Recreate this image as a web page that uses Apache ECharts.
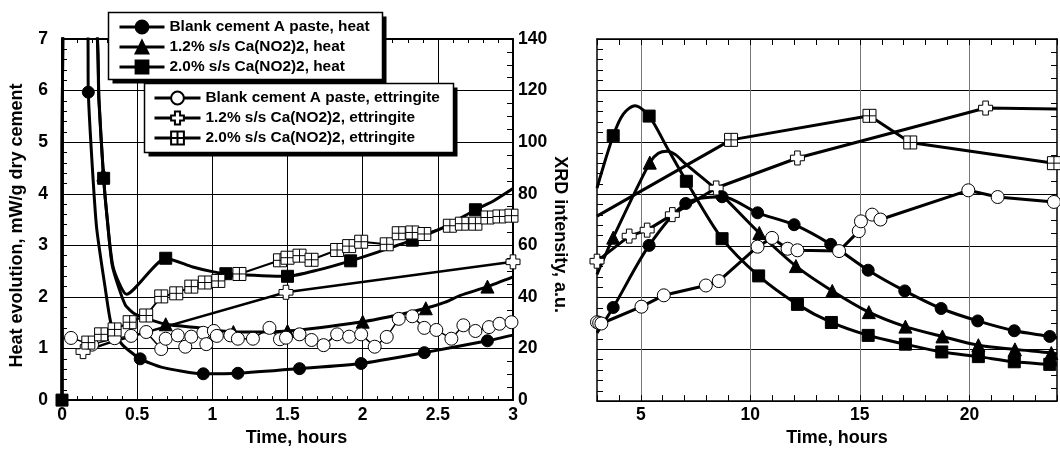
<!DOCTYPE html>
<html lang="en">
<head>
<meta charset="UTF-8">
<script src="https://cdn.jsdelivr.net/npm/echarts@6/dist/echarts.min.js"></script>
<title>Heat evolution and ettringite</title>
<style>
  html, body { margin: 0; padding: 0; background: #fff; }
  #main { width: 1060px; height: 452px; }
</style>
</head>
<body>
<div id="main"></div>
<script>
  // series names
  const names = {
    hb: 'Blank cement A paste, heat',
    h12: '1.2% s/s Ca(NO2)2, heat',
    h20: '2.0% s/s Ca(NO2)2, heat',
    eb: 'Blank cement A paste, ettringite',
    e12: '1.2% s/s Ca(NO2)2, ettringite',
    e20: '2.0% s/s Ca(NO2)2, ettringite'
  };

  // left panel, 0-3 h: [time h, heat mW/g]
  const heatBlankA = [[0,0],[0.01,10],[0.172,7.2],[0.175,5.97],[0.2,4.6],[0.23,3.35],[0.286,2.2],[0.33,1.43],[0.4,1.08],[0.52,0.8],[0.66,0.64],[0.94,0.51],[1.17,0.52],[1.58,0.61],[1.99,0.71],[2.41,0.92],[2.83,1.15],[3.0,1.26]];
  const heatBlankAMarks = [3, 9, 11, 12, 13, 14, 15, 16];
  const heat12A = [[0,0],[0.01,10],[0.225,7.4],[0.245,5.83],[0.275,4.37],[0.3,3.54],[0.335,2.6],[0.42,1.85],[0.49,1.66],[0.69,1.47],[0.92,1.4],[1.14,1.32],[1.5,1.34],[2.0,1.52],[2.25,1.66],[2.42,1.78],[2.55,1.9],[2.65,2.03],[2.83,2.2],[3.0,2.39]];
  const heat12AMarks = [4, 9, 11, 12, 13, 15, 18];
  const heat20A = [[0,0],[0.01,10],[0.226,7.4],[0.246,5.83],[0.277,4.3],[0.3,3.54],[0.34,2.58],[0.43,2.05],[0.69,2.75],[0.87,2.58],[1.0,2.49],[1.09,2.45],[1.5,2.4],[1.7,2.52],[1.92,2.7],[2.1,2.87],[2.33,3.1],[2.51,3.31],[2.6,3.44],[2.75,3.69],[2.87,3.86],[3.0,4.1]];
  const heat20AMarks = [0, 4, 8, 11, 12, 14, 16, 19];

  // left panel: [time h, XRD intensity a.u.]
  const ettBlankA = [[0.06,24.1],[0.2,21.5],[0.35,24.0],[0.46,24.9],[0.56,26.4],[0.66,19.8],[0.69,23.8],[0.77,25.1],[0.82,20.7],[0.86,24.6],[0.94,26.1],[0.96,21.7],[1.01,26.8],[1.03,24.9],[1.12,25.1],[1.17,23.8],[1.27,23.8],[1.38,28.0],[1.45,23.6],[1.49,24.2],[1.58,25.5],[1.66,23.3],[1.74,21.3],[1.83,25.5],[1.91,24.6],[1.99,25.5],[2.08,20.7],[2.16,24.5],[2.24,31.5],[2.33,32.5],[2.41,28.0],[2.49,27.2],[2.59,23.8],[2.67,29.0],[2.75,26.8],[2.84,28.3],[2.91,29.6],[2.99,30.2]];
  const ett12A = [[0.14,18.8],[0.3,22.0],[1.49,41.8],[3.0,53.6]];
  const ett12AMarks = [0, 2, 3];
  const ett20A = [[0.175,22.3],[0.26,25.5],[0.35,27.4],[0.45,30.2],[0.56,32.8],[0.66,40.2],[0.76,41.4],[0.86,44.0],[0.95,45.6],[1.04,46.2],[1.18,48.9],[1.45,54.2],[1.5,55.2],[1.58,56.0],[1.66,54.4],[1.83,58.2],[1.91,59.7],[1.99,61.4],[2.16,60.4],[2.24,64.7],[2.33,65.0],[2.41,64.4],[2.58,67.6],[2.66,68.4],[2.75,68.4],[2.83,70.8],[2.91,71.2],[2.99,71.5]];

  // right panel, 3-24 h
  const heatBlankB = [[3.0,1.32],[3.74,1.81],[5.38,3.01],[7.05,3.82],[8.71,3.95],[10.33,3.64],[12.0,3.41],[13.67,3.03],[15.38,2.53],[17.05,2.13],[18.71,1.79],[20.38,1.55],[22.05,1.36],[23.67,1.25],[24,1.22]];
  const heatBlankBMarks = [1,2,3,4,5,6,7,8,9,10,11,12,13];
  const heat12B = [[3.0,2.45],[3.74,3.16],[5.41,4.61],[5.8,4.79],[6.2,4.83],[6.6,4.76],[7.0,4.6],[8.44,4.09],[10.41,3.25],[12.08,2.61],[13.74,2.13],[15.41,1.72],[17.08,1.44],[18.77,1.25],[20.41,1.08],[22.08,1.0],[23.74,0.93],[24,0.91]];
  const heat12BMarks = [1,2,8,9,10,11,12,13,14,15,16];
  const heat20B = [[3.0,4.12],[3.74,5.13],[4.2,5.55],[4.73,5.71],[5.38,5.51],[6.2,4.9],[7.08,4.25],[8.71,3.14],[10.38,2.42],[12.15,1.87],[13.7,1.52],[15.38,1.27],[17.08,1.1],[18.74,0.95],[20.41,0.86],[22.05,0.76],[23.67,0.71],[24,0.7]];
  const heat20BMarks = [1,4,6,7,8,9,10,11,12,13,14,15,16];
  const ettBlankB = [[3.0,30.5],[3.1,30.2],[3.2,30.0],[5.03,36.5],[6.05,40.9],[7.97,44.7],[8.56,46.4],[10.33,59.7],[10.99,63.1],[11.7,58.9],[12.15,58.3],[14.05,58.0],[14.95,65.7],[15.05,69.5],[15.56,72.1],[15.94,70.2],[19.95,81.5],[21.29,78.9],[23.86,77.0]];
  const ett12B = [[3.0,54.1],[4.47,63.8],[5.29,66.1],[6.44,72.1],[8.44,82.4],[12.15,94.0],[20.74,113.3],[24,112.9]];
  const ett12BMarks = [0,1,2,3,4,5,6];
  const ett20B = [[3.0,71.5],[9.12,101],[15.44,110.3],[17.3,100],[23.86,92.0]];
  const ett20BMarks = [1,2,3,4];

  const crossPath = 'path://M3,0H7V3H10V7H7V10H3V7H0V3H3Z';
  const gridSqPath = 'path://M0,0H10V10H0ZM5,0V10M0,5H10';
  const font = 'Liberation Sans, Arial, sans-serif';

  function pts(arr, marks) {
    return arr.map((p, i) => (!marks || marks.includes(i)) ? p : { value: p, symbol: 'none' });
  }

  let myChart = echarts.init(document.getElementById('main'));

  const lbl = { color: '#000', fontFamily: font, fontWeight: 'bold', fontSize: 17.5 };
  const nameStyle = { color: '#000', fontFamily: font, fontWeight: 'bold', fontSize: 18 };
  const legendText = { color: '#000', fontFamily: font, fontWeight: 'bold', fontSize: 15.4, lineHeight: 16 };

  function heatSeries(name, data, symbol, size, x, y, smooth) {
    return {
      name: name, type: 'line', xAxisIndex: x, yAxisIndex: y,
      data: data, symbol: symbol, symbolSize: size, smooth: smooth,
      clip: true, z: 3,
      lineStyle: { color: '#000', width: 3 },
      itemStyle: { color: '#000', borderColor: '#000', borderWidth: 1 }
    };
  }
  function ettSeries(name, data, symbol, size, x, y, width) {
    return {
      name: name, type: 'line', xAxisIndex: x, yAxisIndex: y,
      data: data, symbol: symbol, symbolSize: size,
      clip: true, z: 4,
      lineStyle: { color: '#000', width: width },
      itemStyle: { color: '#fff', borderColor: '#000', borderWidth: 1 }
    };
  }

  // legend frames with a hard black drop shadow
  function frame(x, y, w, h, z) {
    return [
      { type: 'rect', z: z, shape: { x: x + 4, y: y + 4, width: w, height: h }, style: { fill: '#000' } },
      { type: 'rect', z: z + 1, shape: { x: x, y: y, width: w, height: h }, style: { fill: '#fff', stroke: '#000', lineWidth: 1.5 } }
    ];
  }

  const hidden = 'rgba(0,0,0,0)';

  let option = {
    animation: false,
    backgroundColor: '#fff',
    graphic: frame(108.5, 12.5, 274, 67, 10).concat(frame(144.5, 83.5, 309, 69, 20)),
    grid: [
      { left: 62, top: 39, width: 451, height: 366 },
      { left: 597, top: 39, width: 462, height: 363 }
    ],
    legend: [
      {
        data: [names.hb, names.h12, names.h20],
        orient: 'vertical', left: 118, top: 19, padding: 0,
        itemWidth: 45, itemHeight: 16, itemGap: 4,
        selectedMode: false, z: 15,
        lineStyle: { width: 3 },
        textStyle: legendText
      },
      {
        data: [names.eb, names.e12, names.e20],
        orient: 'vertical', left: 153, top: 90, padding: 0,
        itemWidth: 46, itemHeight: 16, itemGap: 4,
        selectedMode: false, z: 25,
        lineStyle: { width: 3 },
        textStyle: legendText
      }
    ],
    xAxis: [
      {
        gridIndex: 0, type: 'value', position: 'bottom', min: 0, max: 3, interval: 0.5,
        name: 'Time, hours', nameLocation: 'middle', nameGap: 28,
        nameTextStyle: Object.assign({ padding: [0, 0, 0, 18] }, nameStyle),
        axisLine: { onZero: false, lineStyle: { color: '#000', width: 2 } },
        axisTick: { inside: true, length: 4, lineStyle: { color: '#000' } },
        minorTick: { show: true, splitNumber: 5, length: 4, lineStyle: { color: '#000' } },
        axisLabel: Object.assign({ margin: 6 }, lbl),
        splitLine: { show: true, lineStyle: { color: '#000', width: 1 } }
      },
      {
        gridIndex: 0, type: 'value', position: 'top', min: 0, max: 3, interval: 0.5,
        axisLine: { onZero: false, lineStyle: { color: '#000', width: 2 } },
        axisTick: { inside: true, length: 4, lineStyle: { color: '#000' } },
        minorTick: { show: true, splitNumber: 5, length: 4, lineStyle: { color: '#000' } },
        axisLabel: { show: false }, splitLine: { show: false }
      },
      {
        gridIndex: 1, type: 'value', position: 'bottom', min: 3, max: 24, interval: 1,
        name: 'Time, hours', nameLocation: 'middle', nameGap: 27,
        nameTextStyle: Object.assign({ padding: [0, 0, 0, 20] }, nameStyle),
        axisLine: { onZero: false, lineStyle: { color: '#000', width: 1.5 } },
        axisTick: { inside: true, length: 6, lineStyle: { color: '#000' } },
        axisLabel: Object.assign({ margin: 5, formatter: v => (v % 5 === 0 ? String(v) : '') }, lbl),
        splitLine: { show: true, lineStyle: { color: [hidden, hidden, '#777', hidden, hidden], width: 1 } }
      },
      {
        gridIndex: 1, type: 'value', position: 'top', min: 3, max: 24, interval: 1,
        axisLine: { onZero: false, lineStyle: { color: '#000', width: 1.5 } },
        axisTick: { inside: true, length: 6, lineStyle: { color: '#000' } },
        axisLabel: { show: false }, splitLine: { show: false }
      }
    ],
    yAxis: [
      {
        gridIndex: 0, type: 'value', position: 'left', min: 0, max: 7, interval: 1,
        name: 'Heat evolution, mW/g dry cement', nameLocation: 'middle', nameGap: 36,
        nameTextStyle: Object.assign({ padding: [0, 12, 0, 0] }, nameStyle),
        axisLine: { onZero: false, lineStyle: { color: '#000', width: 2 } },
        axisTick: { inside: true, length: 5, lineStyle: { color: '#000' } },
        minorTick: { show: true, splitNumber: 5, length: 5, lineStyle: { color: '#000' } },
        axisLabel: Object.assign({ margin: 14 }, lbl),
        splitLine: { show: true, lineStyle: { color: '#000', width: 1 } }
      },
      {
        gridIndex: 0, type: 'value', position: 'right', min: 0, max: 140, interval: 20,
        name: 'XRD intensity, a.u.', nameLocation: 'middle', nameGap: 35, nameRotate: -90,
        nameTextStyle: Object.assign({ padding: [0, 0, 0, 30] }, nameStyle),
        axisLine: { onZero: false, lineStyle: { color: '#000', width: 2 } },
        axisTick: { inside: true, length: 6, lineStyle: { color: '#000' } },
        minorTick: { show: true, splitNumber: 4, length: 6, lineStyle: { color: '#000' } },
        axisLabel: Object.assign({ margin: 5 }, lbl),
        splitLine: { show: false }
      },
      {
        gridIndex: 1, type: 'value', position: 'left', min: 0, max: 7, interval: 1,
        axisLine: { onZero: false, lineStyle: { color: '#000', width: 1.5 } },
        axisTick: { inside: true, length: 6, lineStyle: { color: '#000' } },
        minorTick: { show: true, splitNumber: 5, length: 6, lineStyle: { color: '#000' } },
        axisLabel: { show: false },
        splitLine: { show: true, lineStyle: { color: '#000', width: 1 } }
      },
      {
        gridIndex: 1, type: 'value', position: 'right', min: 0, max: 140, interval: 20,
        axisLine: { onZero: false, lineStyle: { color: '#000', width: 1.5 } },
        axisTick: { inside: true, length: 6, lineStyle: { color: '#000' } },
        minorTick: { show: true, splitNumber: 4, length: 6, lineStyle: { color: '#000' } },
        axisLabel: { show: false },
        splitLine: { show: false }
      }
    ],
    series: [
      // left panel
      ettSeries(names.eb, pts(ettBlankA), 'circle', 13, 0, 1, 1.5),
      ettSeries(names.e12, pts(ett12A, ett12AMarks), crossPath, 14, 0, 1, 2.5),
      ettSeries(names.e20, pts(ett20A), gridSqPath, 13, 0, 1, 2),
      heatSeries(names.hb, pts(heatBlankA, heatBlankAMarks), 'circle', 12, 0, 0, 0.2),
      heatSeries(names.h12, pts(heat12A, heat12AMarks), 'triangle', 13, 0, 0, 0.2),
      heatSeries(names.h20, pts(heat20A, heat20AMarks), 'rect', 12, 0, 0, 0.2),
      // right panel
      heatSeries(names.hb, pts(heatBlankB, heatBlankBMarks), 'circle', 12, 2, 2, 0.3),
      heatSeries(names.h12, pts(heat12B, heat12BMarks), 'triangle', 13, 2, 2, 0.3),
      heatSeries(names.h20, pts(heat20B, heat20BMarks), 'rect', 12, 2, 2, 0.3),
      ettSeries(names.eb, pts(ettBlankB), 'circle', 13, 2, 3, 3),
      ettSeries(names.e12, pts(ett12B, ett12BMarks), crossPath, 14, 2, 3, 3),
      ettSeries(names.e20, pts(ett20B, ett20BMarks), gridSqPath, 13, 2, 3, 3)
    ]
  };

  myChart.setOption(option);
</script>
</body>
</html>
